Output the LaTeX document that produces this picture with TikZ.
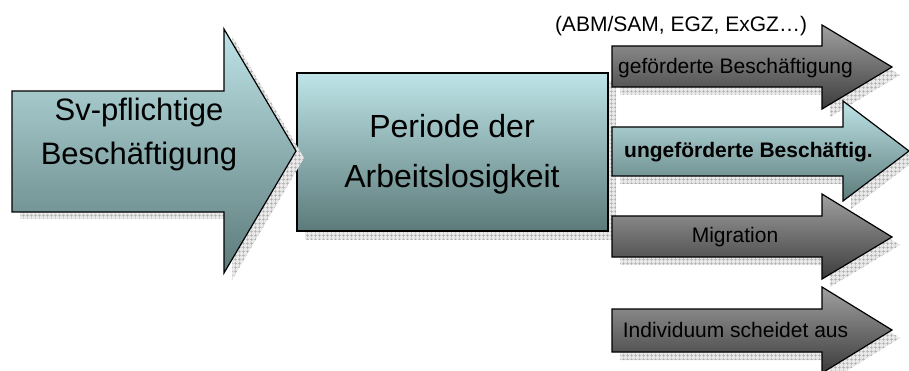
\documentclass[tikz,border=0pt]{standalone}
\usepackage{fontspec}
\setmainfont{Liberation Sans}
\usetikzlibrary{patterns.meta}
\definecolor{tealtop}{RGB}{190,228,231}
\definecolor{tealbot}{RGB}{92,122,122}
\definecolor{graytop}{RGB}{160,160,160}
\definecolor{graybot}{RGB}{60,60,60}
% arrow outline: shaft left, head base x, tip x, shaft top, shaft bottom, head top, head bottom, tip y
\newcommand\rarrowpath[8]{(#1,#4) -- (#2,#4) -- (#2,#6) -- (#3,#8) -- (#2,#7) -- (#2,#5) -- (#1,#5) -- cycle}
\begin{document}
\begin{tikzpicture}[x=1pt,y=-1pt,
  outline/.style={draw=black, line width=1.2pt, line join=miter},
  tealshade/.style={outline, top color=tealtop, bottom color=tealbot},
  grayshade/.style={outline, top color=graytop, bottom color=graybot},
  shadowfill/.style={fill=gray!18, postaction={pattern={Hatch[angle=0,distance=4pt,line width=0.7pt]}, pattern color=gray!65}},
  bigtext/.style={font=\fontsize{31}{44}\selectfont, align=center, inner sep=0pt},
  boxtext/.style={font=\fontsize{32}{50}\selectfont, align=center, inner sep=0pt},
  smalltext/.style={font=\fontsize{21}{25}\selectfont, inner sep=0pt}]
\useasboundingbox (0,0) rectangle (909,371);
\fill[white] (0,0) rectangle (909,371);

% Periode box
\fill[shadowfill, shift={(8,8)}] (297,73) rectangle (608,231);
\path[tealshade] (297,73) rectangle (608,231);
\node[boxtext] (periode) at (452,154) {Periode der\\Arbeitslosigkeit};

% big left arrow
\fill[shadowfill, shift={(8,7)}] \rarrowpath{12}{224}{296}{91}{212}{29}{273}{151};
\path[tealshade] \rarrowpath{12}{224}{296}{91}{212}{29}{273}{151};
\node[bigtext] (sv) at (139,134) {Sv-pflichtige\\Besch\"aftigung};

% label above
\node[smalltext, anchor=base] (abm) at (681,32) {(ABM/SAM, EGZ, ExGZ\ldots)};

% arrow 1
\fill[shadowfill, shift={(8,8)}] \rarrowpath{612}{822}{892}{46}{87}{25}{109}{67};
\path[grayshade] \rarrowpath{612}{822}{892}{46}{87}{25}{109}{67};
\node[smalltext, anchor=base] (gef) at (735.5,74) {gef\"orderte Besch\"aftigung};

% arrow 2
\fill[shadowfill, shift={(8,8)}] \rarrowpath{612}{843}{909}{127}{176}{101}{201}{151};
\path[tealshade] \rarrowpath{612}{843}{909}{127}{176}{101}{201}{151};
\node[smalltext, anchor=base, font=\fontsize{21}{25}\selectfont\bfseries] (ungef) at (748.5,158) {ungef\"orderte Besch\"aftig.};

% arrow 3
\fill[shadowfill, shift={(8,8)}] \rarrowpath{612}{822}{892}{216}{257}{194}{279}{237};
\path[grayshade] \rarrowpath{612}{822}{892}{216}{257}{194}{279}{237};
\node[smalltext, anchor=base] (mig) at (735,243) {Migration};

% arrow 4
\fill[shadowfill, shift={(8,8)}] \rarrowpath{612}{822}{892}{309}{352}{287}{373}{330};
\path[grayshade] \rarrowpath{612}{822}{892}{309}{352}{287}{373}{330};
\node[smalltext, anchor=base] (ind) at (735.5,337) {Individuum scheidet aus};
\end{tikzpicture}
\end{document}
